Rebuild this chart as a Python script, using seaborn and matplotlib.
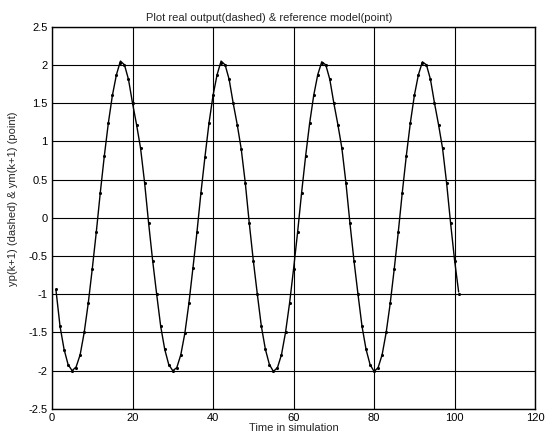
import numpy as np
import matplotlib
matplotlib.use('Agg')
import matplotlib.pyplot as plt
from matplotlib.ticker import FuncFormatter
import seaborn as sns

# sample index k
k = list(range(1, 102))

# real output yp(k+1)
yp = [-0.95, -1.42, -1.72, -1.92, -2.00, -1.95, -1.79, -1.50, -1.12, -0.67,
      -0.19, 0.33, 0.81, 1.24, 1.60, 1.87, 2.05, 2.00, 1.81, 1.50,
      1.22, 0.91, 0.46, -0.07, -0.56, -1.00, -1.42, -1.72, -1.92, -2.00,
      -1.96, -1.79, -1.51, -1.12, -0.66, -0.19, 0.33, 0.80, 1.24, 1.60,
      1.87, 2.05, 2.00, 1.81, 1.50, 1.22, 0.90, 0.46, -0.07, -0.56,
      -1.00, -1.42, -1.72, -1.92, -2.01, -1.96, -1.79, -1.50, -1.12, -0.67,
      -0.19, 0.33, 0.81, 1.24, 1.60, 1.87, 2.04, 2.00, 1.81, 1.50,
      1.22, 0.91, 0.46, -0.07, -0.56, -1.00, -1.42, -1.72, -1.92, -2.01,
      -1.96, -1.79, -1.50, -1.12, -0.67, -0.19, 0.33, 0.81, 1.24, 1.60,
      1.87, 2.04, 2.00, 1.81, 1.50, 1.22, 0.91, 0.46, -0.07, -0.56,
      -0.97]

# reference model ym(k+1), drawn as points
ym = [-0.93, -1.42, -1.73, -1.92, -2.00, -1.96, -1.79, -1.50, -1.12, -0.67,
      -0.19, 0.33, 0.81, 1.24, 1.60, 1.87, 2.03, 2.00, 1.81, 1.50,
      1.22, 0.91, 0.46, -0.07, -0.56, -1.00, -1.42, -1.72, -1.92, -2.00,
      -1.96, -1.79, -1.51, -1.12, -0.66, -0.19, 0.33, 0.80, 1.24, 1.60,
      1.87, 2.03, 2.00, 1.81, 1.50, 1.22, 0.90, 0.46, -0.07, -0.56,
      -1.00, -1.42, -1.72, -1.92, -2.00, -1.96, -1.79, -1.50, -1.12, -0.67,
      -0.19, 0.33, 0.81, 1.24, 1.60, 1.87, 2.03, 2.00, 1.81, 1.50,
      1.22, 0.91, 0.46, -0.07, -0.56, -1.00, -1.42, -1.72, -1.92, -2.00,
      -1.96, -1.79, -1.50, -1.12, -0.67, -0.19, 0.33, 0.81, 1.24, 1.60,
      1.87, 2.03, 2.00, 1.81, 1.50, 1.22, 0.91, 0.46, -0.07, -0.56,
      -1.00]

x_ticks = [0, 20, 40, 60, 80, 100, 120]
y_ticks = [-2.5, -2, -1.5, -1, -0.5, 0, 0.5, 1, 1.5, 2, 2.5]

sns.set_style('white')
plt.rcParams['font.family'] = ['Liberation Sans', 'DejaVu Sans']

fig = plt.figure(figsize=(5.56, 4.44), dpi=100)
ax = fig.add_axes([0.0935, 0.079, 0.869, 0.861])

ax.set_axisbelow(True)
ax.grid(True, color='black', linewidth=0.8, linestyle='-')

sns.lineplot(x=k, y=yp, ax=ax, color='black', linewidth=1.0)
sns.scatterplot(x=k, y=ym, ax=ax, color='black', s=5, linewidth=0)

ax.set_xlim(0, 120)
ax.set_ylim(-2.5, 2.5)
ax.set_xticks(x_ticks)
ax.set_yticks(y_ticks)
ax.yaxis.set_major_formatter(FuncFormatter(lambda v, p: '%g' % v))
ax.tick_params(direction='in', length=3, labelsize=8, colors='black', pad=3)
for s in ax.spines.values():
    s.set_color('black')
    s.set_linewidth(1.0)

ax.set_title('Plot real output(dashed) & reference model(point)',
             fontsize=8, x=0.45, pad=4)
ax.set_xlabel('Time in simulation', fontsize=8, labelpad=0)
ax.set_ylabel('yp(k+1) (dashed) & ym(k+1) (point)', fontsize=8, labelpad=1)
ax.yaxis.set_label_coords(-0.07, 0.55)

fig.savefig('out.png', dpi=100)
